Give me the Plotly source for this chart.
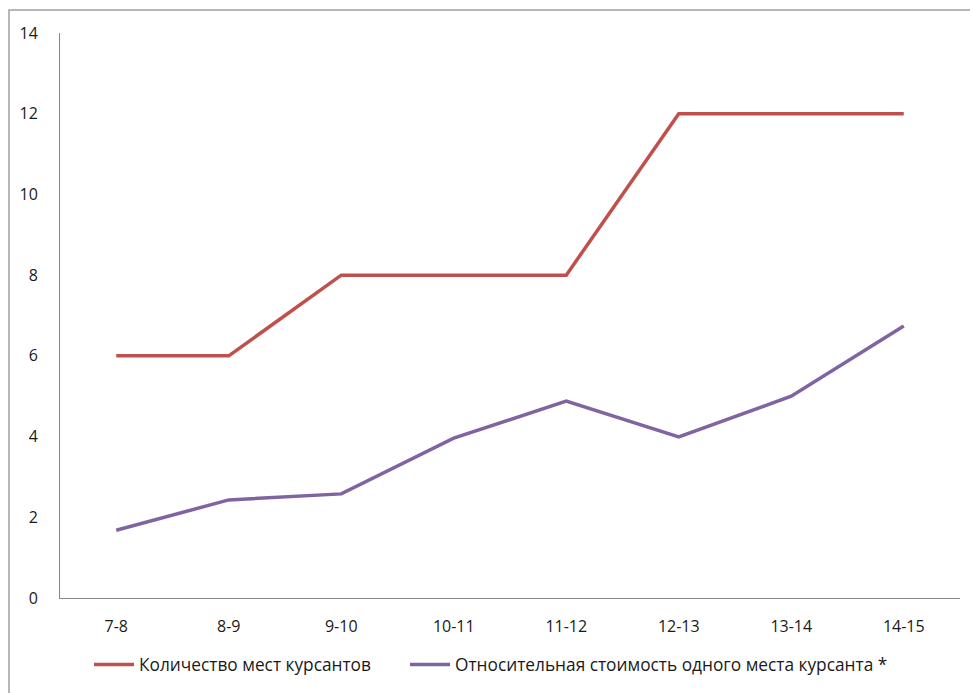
import plotly.graph_objects as go

categories = ["7-8", "8-9", "9-10", "10-11", "11-12", "12-13", "13-14", "14-15"]
seats = [6, 6, 8, 8, 8, 12, 12, 12]
rel_cost = [1.68, 2.43, 2.58, 3.96, 4.88, 3.99, 5.0, 6.74]
y_ticks = [0, 2, 4, 6, 8, 10, 12, 14]

FONT = "Open Sans"
LEG_FONT = dict(size=17.3, color="#1a1a1a")

fig = go.Figure()
fig.add_trace(go.Scatter(x=categories, y=seats, mode="lines",
                         name="Количество мест курсантов",
                         line=dict(color="#C0504D", width=3.5), legend="legend"))
fig.add_trace(go.Scatter(x=categories, y=rel_cost, mode="lines",
                         name="Относительная стоимость одного места курсанта *",
                         line=dict(color="#8064A2", width=3.5), legend="legend2"))

fig.update_layout(
    width=970, height=693,
    margin=dict(l=60, r=10, t=33, b=95),
    paper_bgcolor="white", plot_bgcolor="white",
    font=dict(family=FONT, size=16, color="#1a1a1a"),
    showlegend=True,
    legend=dict(orientation="h", x=(89 - 60) / 900, xanchor="left", y=-0.118, yanchor="middle",
                font=LEG_FONT, itemwidth=40, bgcolor="rgba(0,0,0,0)"),
    legend2=dict(orientation="h", x=(405 - 60) / 900, xanchor="left", y=-0.118, yanchor="middle",
                 font=LEG_FONT, itemwidth=40, bgcolor="rgba(0,0,0,0)"),
    xaxis=dict(type="category", range=[-0.5, 7.5], showgrid=False,
               showline=True, linecolor="#868686", linewidth=1,
               ticks="", ticklabelstandoff=14, zeroline=False),
    yaxis=dict(range=[0, 14], tickvals=y_ticks, showgrid=False,
               showline=True, linecolor="#868686", linewidth=1,
               ticks="", ticklabelstandoff=18, zeroline=False),
)

fig.add_shape(type="rect", xref="paper", yref="paper",
              x0=(9 - 60) / 900, x1=1.05, y0=-0.3, y1=(598 - 10) / 565,
              line=dict(color="#A0A0A0", width=1.5), fillcolor="rgba(0,0,0,0)",
              layer="below")

fig.write_html("out.html")
